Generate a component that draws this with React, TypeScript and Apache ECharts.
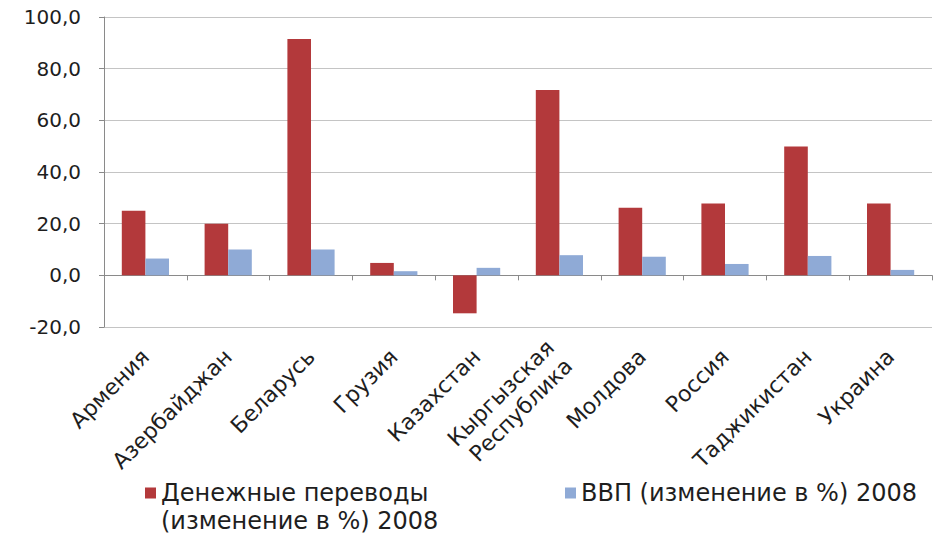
import React, { useEffect, useRef } from "react";
import * as echarts from "echarts";

const categories = [
  "Армения",
  "Азербайджан",
  "Беларусь",
  "Грузия",
  "Казахстан",
  "Кыргызская\nРеспублика",
  "Молдова",
  "Россия",
  "Таджикистан",
  "Украина",
];
const remittances = [25.0, 20.0, 91.5, 4.8, -14.7, 71.7, 26.2, 27.8, 49.9, 27.8];
const gdp = [6.5, 10.0, 10.0, 1.6, 2.9, 7.8, 7.2, 4.4, 7.5, 2.1];
const seriesNames = ["Денежные переводы\n(изменение в %) 2008", "ВВП (изменение в %) 2008"];
const yMin = -20;
const yMax = 100;
const yInterval = 20;

const FONT = "DejaVu Sans";
const TEXT = "#1e1e1e";

export default function App() {
  const ref = useRef<HTMLDivElement>(null);
  useEffect(() => {
    if (!ref.current) return;
    document.body.style.margin = "0";
    const chart = echarts.init(ref.current, undefined, { renderer: "svg" });
    chart.setOption({
      animation: false,
      backgroundColor: "#ffffff",
      grid: { left: 104, right: 12, top: 17, bottom: 208 },
      legend: [
        {
          data: [seriesNames[0]],
          left: 140,
          top: 474,
          itemWidth: 11,
          itemHeight: 39,
          itemGap: 0,
          icon: "path://M0,0H11V11H0Z M0,39H11",
          selectedMode: false,
          textStyle: { fontFamily: FONT, fontSize: 24, lineHeight: 28, color: TEXT },
        },
        {
          data: [seriesNames[1]],
          left: 560,
          top: 474,
          itemWidth: 11,
          itemHeight: 11,
          icon: "rect",
          selectedMode: false,
          textStyle: { fontFamily: FONT, fontSize: 24, lineHeight: 28, color: TEXT },
        },
      ],
      xAxis: {
        type: "category",
        data: categories,
        axisLine: { onZero: true, lineStyle: { color: "#8a8a8a", width: 1 } },
        axisTick: { show: true, length: 5, lineStyle: { color: "#8a8a8a" } },
        axisLabel: {
          rotate: 45,
          interval: 0,
          margin: 26,
          fontFamily: FONT,
          fontSize: 22,
          lineHeight: 26,
          color: TEXT,
        },
        splitLine: { show: false },
      },
      yAxis: {
        type: "value",
        min: yMin,
        max: yMax,
        interval: yInterval,
        axisLine: { show: true, lineStyle: { color: "#8a8a8a", width: 1 } },
        axisTick: { show: true, length: 5, lineStyle: { color: "#8a8a8a" } },
        axisLabel: {
          margin: 23,
          fontFamily: FONT,
          fontSize: 20,
          color: TEXT,
          formatter: (v: number) => v.toFixed(1).replace(".", ","),
        },
        splitLine: { show: true, lineStyle: { color: "#c4c4c4", width: 1 } },
      },
      series: [
        {
          name: seriesNames[0],
          type: "bar",
          data: remittances,
          barGap: "0%",
          barCategoryGap: "43%",
          itemStyle: { color: "#b3393b" },
        },
        {
          name: seriesNames[1],
          type: "bar",
          data: gdp,
          barGap: "0%",
          barCategoryGap: "43%",
          itemStyle: { color: "#8faad6" },
        },
      ],
    });
    return () => chart.dispose();
  }, []);
  return <div ref={ref} style={{ width: 944, height: 535 }} />;
}
